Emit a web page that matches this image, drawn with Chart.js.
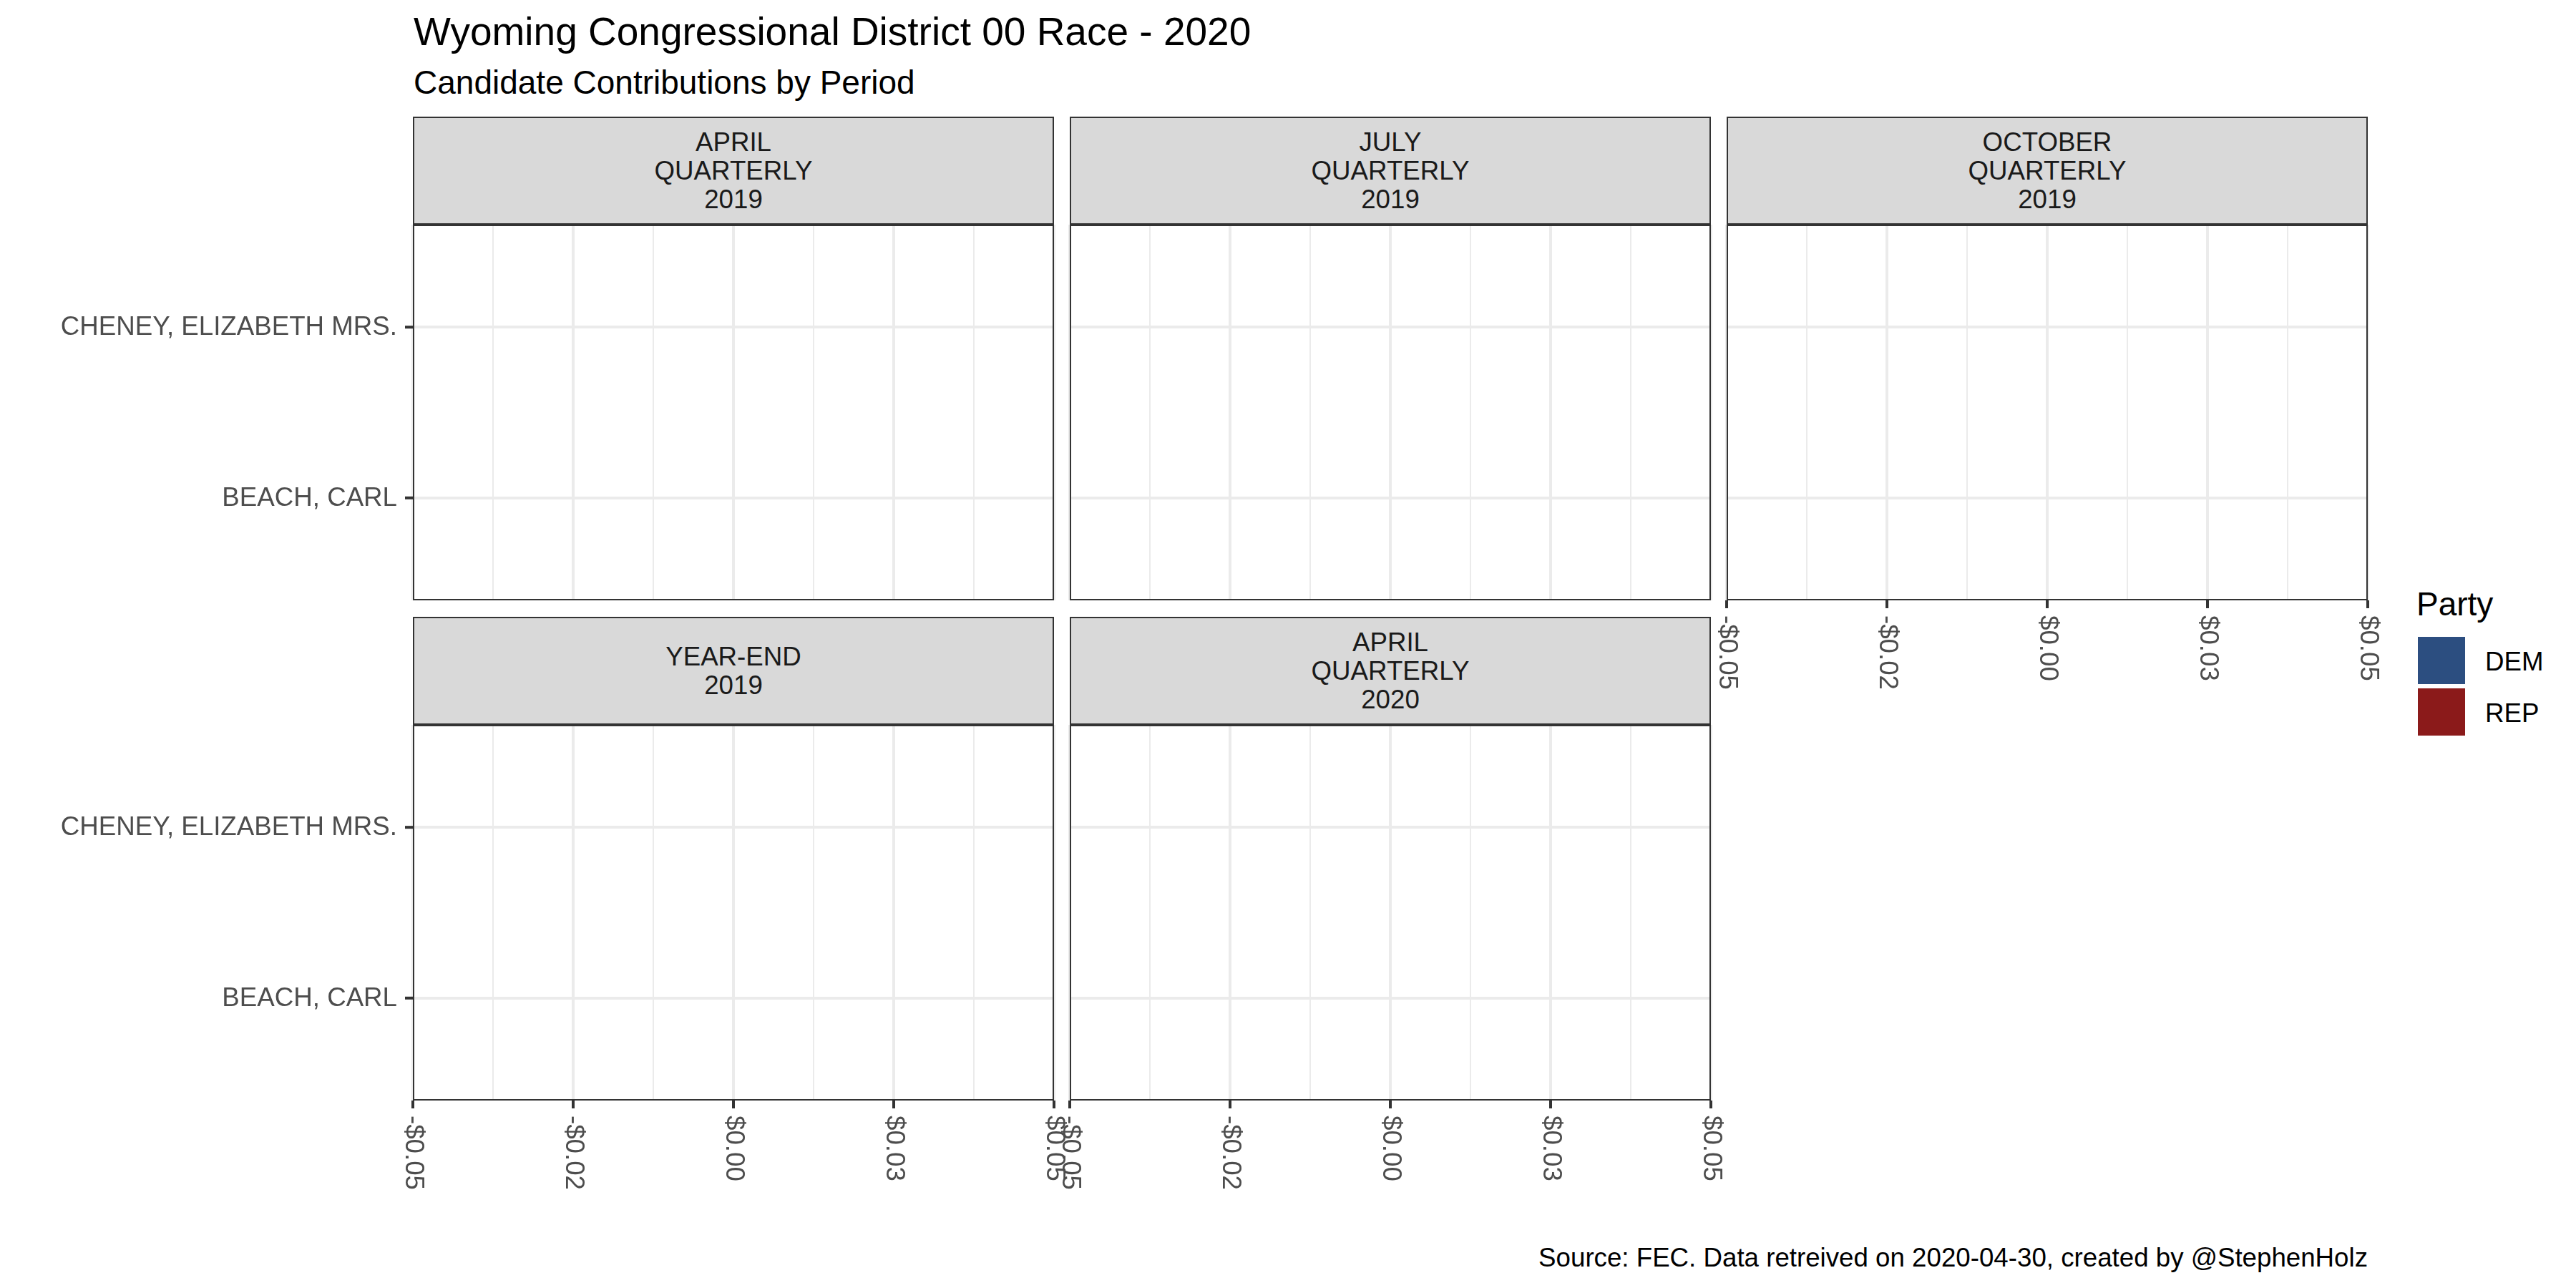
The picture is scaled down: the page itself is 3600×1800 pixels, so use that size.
<!DOCTYPE html>
<html>
<head>
<meta charset="utf-8">
<script src="https://cdn.jsdelivr.net/npm/chart.js@4/dist/chart.umd.min.js"></script>
<style>
  html, body { margin: 0; padding: 0; background: #ffffff; }
  #page { position: relative; width: 3600px; height: 1800px; overflow: hidden; background: #ffffff;
          font-family: 'Liberation Sans', Arial, sans-serif; }
  .txt { position: absolute; white-space: nowrap; }
  .strip { position: absolute; box-sizing: border-box; border: 2px solid #333333; background: #D9D9D9;
           display: flex; flex-direction: column; align-items: center; justify-content: center; text-align: center;
           color: #1A1A1A; font-size: 36.7px; line-height: 40px; }
  canvas { position: absolute; }
  .key { position: absolute; width: 66px; height: 66px; }
</style>
</head>
<body>
<div id="page"></div>
<script>
// ---------------- data ----------------
const periods = ['APRIL\nQUARTERLY\n2019', 'JULY\nQUARTERLY\n2019', 'OCTOBER\nQUARTERLY\n2019', 'YEAR-END\n2019', 'APRIL\nQUARTERLY\n2020'];
const candidates = ['BEACH, CARL', 'CHENEY, ELIZABETH MRS.'];
const candidateParty = ['DEM', 'REP'];
const beachContributions = [0, 0, 0, 0, 0];
const cheneyContributions = [0, 0, 0, 0, 0];
const xTickValues = [-0.05, -0.025, 0, 0.025, 0.05];
const xTickLabels = ['-$0.05', '-$0.02', '$0.00', '$0.03', '$0.05'];
const xMinorValues = [-0.0375, -0.0125, 0.0125, 0.0375];
const parties = ['DEM', 'REP'];
const partyColors = ['#2C4E80', '#8B1A1A'];
const titleText = 'Wyoming Congressional District 00 Race - 2020';
const subtitleText = 'Candidate Contributions by Period';
const captionText = 'Source: FEC. Data retreived on 2020-04-30, created by @StephenHolz';
const legendTitle = 'Party';

// ---------------- layout (styling only) ----------------
const FONT = "'Liberation Sans', Arial, sans-serif";
const colLeft = [577, 1495, 2413];
const panelW = 896;
const stripTop = [163, 862];
const stripH = 151;
const panelH = 525;
const page = document.getElementById('page');

function addText(text, css) {
  const d = document.createElement('div');
  d.className = 'txt';
  d.textContent = text;
  Object.assign(d.style, css);
  page.appendChild(d);
  return d;
}

addText(titleText, { left: '578px', top: '17px', fontSize: '55px', lineHeight: '55px', color: '#000000' });
addText(subtitleText, { left: '578px', top: '92px', fontSize: '46px', lineHeight: '46px', color: '#000000' });
addText(captionText, { right: (3600 - 3309) + 'px', top: '1740px', fontSize: '36.7px', lineHeight: '36.7px', color: '#000000' });

// legend
addText(legendTitle, { left: '3377px', top: '821px', fontSize: '46px', lineHeight: '46px', color: '#000000' });
parties.forEach((p, i) => {
  const k = document.createElement('div');
  k.className = 'key';
  k.style.left = '3379px';
  k.style.top = (890 + i * 72) + 'px';
  k.style.background = partyColors[i];
  page.appendChild(k);
  addText(p, { left: '3473px', top: (892 + i * 72) + 'px', fontSize: '36.7px', lineHeight: '66px', color: '#000000' });
});

const majorSet = new Set(xTickValues);

const panelPlugin = {
  id: 'panelDecor',
  afterDraw(chart, args, opts) {
    const ctx = chart.ctx;
    const a = chart.chartArea;
    const xs = chart.scales.x, ys = chart.scales.y;
    ctx.save();
    ctx.strokeStyle = '#333333';
    ctx.lineWidth = 2;
    ctx.strokeRect(a.left + 1, a.top + 1, (a.right - a.left) - 2, (a.bottom - a.top) - 2);
    if (opts.showY) {
      candidates.forEach((c, i) => {
        const y = ys.getPixelForValue(i + 1);
        ctx.fillStyle = '#333333';
        ctx.fillRect(a.left - 11, y - 2, 11, 4);
        ctx.fillStyle = '#4D4D4D';
        ctx.font = '36.7px ' + FONT;
        ctx.textAlign = 'right';
        ctx.textBaseline = 'middle';
        ctx.fillText(c, a.left - 22, y + 1);
      });
    }
    if (opts.showX) {
      xTickValues.forEach((v, i) => {
        const x = xs.getPixelForValue(v);
        ctx.fillStyle = '#333333';
        ctx.fillRect(x - 2, a.bottom, 4, 11);
        ctx.save();
        ctx.translate(x, a.bottom + 21);
        ctx.rotate(Math.PI / 2);
        ctx.fillStyle = '#4D4D4D';
        ctx.font = '36.7px ' + FONT;
        ctx.textAlign = 'left';
        ctx.textBaseline = 'middle';
        ctx.fillText(xTickLabels[i], 0, 0);
        ctx.restore();
      });
    }
    ctx.restore();
  }
};

periods.forEach((per, i) => {
  const row = Math.floor(i / 3), col = i % 3;
  const pl = colLeft[col], pr = pl + panelW;
  const st = stripTop[row];
  const pt = st + stripH, pb = pt + panelH;

  const s = document.createElement('div');
  s.className = 'strip';
  s.style.left = pl + 'px';
  s.style.top = st + 'px';
  s.style.width = panelW + 'px';
  s.style.height = stripH + 'px';
  per.split('\n').forEach(t => { const l = document.createElement('div'); l.textContent = t; s.appendChild(l); });
  page.appendChild(s);

  const cl = col === 0 ? 0 : pl - 20;
  const cr = pr + 20;
  const ct = pt - 5;
  const cb = pb + 140;
  const cv = document.createElement('canvas');
  cv.width = cr - cl; cv.height = cb - ct;
  cv.style.left = cl + 'px'; cv.style.top = ct + 'px';
  cv.style.width = (cr - cl) + 'px'; cv.style.height = (cb - ct) + 'px';
  page.appendChild(cv);

  const showX = row === 1 || (row === 0 && i + 3 >= periods.length);
  const showY = col === 0;

  new Chart(cv.getContext('2d'), {
    type: 'bar',
    data: {
      datasets: [
        { label: candidateParty[0], data: [{ x: beachContributions[i], y: 1 }], backgroundColor: partyColors[0], borderWidth: 0, grouped: false },
        { label: candidateParty[1], data: [{ x: cheneyContributions[i], y: 2 }], backgroundColor: partyColors[1], borderWidth: 0, grouped: false }
      ]
    },
    options: {
      indexAxis: 'y',
      responsive: false,
      animation: false,
      devicePixelRatio: 1,
      events: [],
      layout: { padding: { left: pl - cl, right: cr - pr, top: pt - ct, bottom: cb - pb } },
      plugins: { legend: { display: false }, tooltip: { enabled: false }, panelDecor: { showX, showY } },
      scales: {
        x: {
          type: 'linear', min: -0.05, max: 0.05, offset: false,
          afterBuildTicks: (sc) => { sc.ticks = xTickValues.concat(xMinorValues).sort((a, b) => a - b).map(v => ({ value: v })); },
          afterFit: (sc) => { sc.height = 0; },
          ticks: { display: false },
          border: { display: false },
          grid: {
            offset: false, drawTicks: false, color: '#EBEBEB',
            lineWidth: (c) => (c.tick && majorSet.has(c.tick.value)) ? 4 : 2
          }
        },
        y: {
          type: 'linear', min: 0.4, max: 2.6, offset: false,
          afterBuildTicks: (sc) => { sc.ticks = candidates.map((c, k) => ({ value: k + 1 })); },
          afterFit: (sc) => { sc.width = 0; },
          ticks: { display: false },
          border: { display: false },
          grid: { offset: false, drawTicks: false, color: '#EBEBEB', lineWidth: 4 }
        }
      }
    },
    plugins: [panelPlugin]
  });
});
</script>
</body>
</html>
